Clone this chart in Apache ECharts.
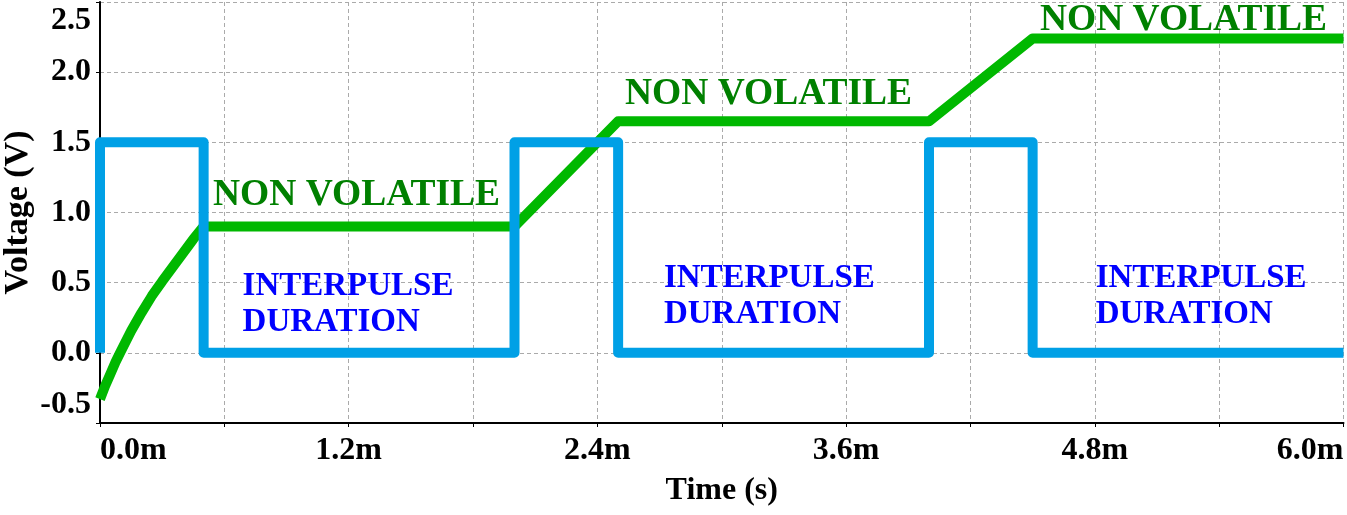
<!DOCTYPE html>
<html>
<head>
<meta charset="utf-8">
<script src="https://cdn.jsdelivr.net/npm/echarts@6/dist/echarts.min.js"></script>
<style>
html,body{margin:0;padding:0;background:#fff;}
#chart{width:1347px;height:515px;}
</style>
</head>
<body>
<div id="chart"></div>
<script>
// Time in ms, voltage in V
const pulseTime = [0, 0, 0.5, 0.5, 2.0, 2.0, 2.5, 2.5, 4.0, 4.0, 4.5, 4.5, 6.0];
const pulseVolt = [0, 1.5, 1.5, 0, 0, 1.5, 1.5, 0, 0, 1.5, 1.5, 0, 0];

const stateTime = [0, 0.025, 0.05, 0.075, 0.1, 0.15, 0.2, 0.25, 0.3, 0.35, 0.4, 0.45, 0.5, 2.0, 2.5, 4.0, 4.5, 6.0];
const stateVolt = [-0.33, -0.235, -0.15, -0.065, 0.01, 0.155, 0.285, 0.405, 0.51, 0.61, 0.71, 0.81, 0.9, 0.9, 1.65, 1.65, 2.24, 2.24];

const nvText = ['NON VOLATILE', 'NON VOLATILE', 'NON VOLATILE'];
const nvX = [0.545, 2.533, 4.535];
const nvY = [1.12, 1.845, 2.37];

const ipText = ['INTERPULSE\nDURATION', 'INTERPULSE\nDURATION', 'INTERPULSE\nDURATION'];
const ipX = [0.688, 2.721, 4.804];
const ipY = [0.343, 0.399, 0.399];

const xTitle = 'Time (s)';
const yTitle = 'Voltage (V)';

const FONT = "'Liberation Serif', 'Times New Roman', serif";

const chart = echarts.init(document.getElementById('chart'), null, {renderer: 'canvas'});

const pulseData = pulseTime.map((t, i) => [t, pulseVolt[i]]);
const stateData = stateTime.map((t, i) => [t, stateVolt[i]]);

const option = {
  animation: false,
  backgroundColor: '#ffffff',
  grid: {left: 100, right: 3.5, top: 2, bottom: 92, containLabel: false, outerBoundsMode: 'none'},
  xAxis: {
    type: 'value', min: 0, max: 6, interval: 0.6,
    name: xTitle, nameLocation: 'middle', nameGap: 52, nameMoveOverlap: false,
    nameTextStyle: {fontFamily: FONT, fontWeight: 'bold', fontSize: 32, color: '#000'},
    axisLine: {show: true, onZero: false, lineStyle: {color: '#000', width: 2}},
    axisTick: {show: true, length: 4, lineStyle: {color: '#000', width: 1}},
    axisLabel: {
      margin: 12, fontFamily: FONT, fontWeight: 'bold', fontSize: 32, color: '#000',
      alignMinLabel: 'left', alignMaxLabel: 'right',
      formatter: function (v) {
        const k = v / 1.2;
        return Math.abs(k - Math.round(k)) < 1e-6 ? v.toFixed(1) + 'm' : '';
      }
    },
    splitLine: {show: true, lineStyle: {color: '#aaaaaa', width: 1, type: [4, 3]}}
  },
  yAxis: {
    type: 'value', min: -0.5, max: 2.5, interval: 0.5,
    name: yTitle, nameLocation: 'middle', nameGap: 65, nameRotate: 90, nameMoveOverlap: false,
    nameTextStyle: {fontFamily: FONT, fontWeight: 'bold', fontSize: 34, color: '#000'},
    axisLine: {show: true, onZero: false, lineStyle: {color: '#000', width: 2}},
    axisTick: {show: true, length: 4, lineStyle: {color: '#000', width: 1}},
    axisLabel: {
      margin: 9, fontFamily: FONT, fontWeight: 'bold', fontSize: 32, color: '#000',
      formatter: function (v) {
        const s = v.toFixed(1);
        if (Math.abs(v - 2.5) < 1e-6) return '{t|' + s + '}';
        if (Math.abs(v + 0.5) < 1e-6) return '{b|' + s + '}';
        return s;
      },
      rich: {
        t: {fontFamily: FONT, fontWeight: 'bold', fontSize: 32, color: '#000', padding: [38, 0, 0, 0]},
        b: {fontFamily: FONT, fontWeight: 'bold', fontSize: 32, color: '#000', padding: [0, 0, 36, 0]}
      }
    },
    splitLine: {show: true, lineStyle: {color: '#aaaaaa', width: 1, type: [4, 3]}}
  },
  series: [
    {
      name: 'state', type: 'line', data: stateData, showSymbol: false, symbol: 'none',
      lineStyle: {color: '#00b800', width: 10, join: 'round'}, z: 2
    },
    {
      name: 'pulse', type: 'line', data: pulseData, showSymbol: false, symbol: 'none',
      lineStyle: {color: '#00a0e6', width: 10, join: 'round'}, z: 3
    }
  ]
};
chart.setOption(option);

const graphics = [];
nvText.forEach((t, i) => {
  const p = chart.convertToPixel({gridIndex: 0}, [nvX[i], nvY[i]]);
  graphics.push({
    type: 'text', x: p[0], y: p[1], z: 10,
    style: {text: t, fill: '#008000', font: 'bold 37.5px ' + FONT, align: 'left', verticalAlign: 'middle'}
  });
});
ipText.forEach((t, i) => {
  const p = chart.convertToPixel({gridIndex: 0}, [ipX[i], ipY[i]]);
  graphics.push({
    type: 'text', x: p[0], y: p[1], z: 10,
    style: {text: t, fill: '#0000ff', font: 'bold 33px ' + FONT, lineHeight: 36, align: 'left', verticalAlign: 'middle'}
  });
});
chart.setOption({graphic: graphics});
</script>
</body>
</html>
